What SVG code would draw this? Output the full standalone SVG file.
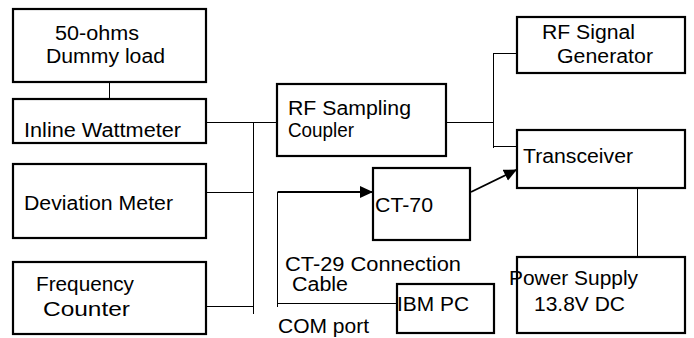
<svg xmlns="http://www.w3.org/2000/svg" width="694" height="338" viewBox="0 0 694 338">
<style>
.box{fill:#fff;stroke:#000;stroke-width:2.2}
.t{font-family:"Liberation Sans",Arial,sans-serif;font-size:19.5px;fill:#000}
.w{fill:none;stroke:#000;stroke-width:1}
.a{fill:none;stroke:#000;stroke-width:1.8}
</style>
<defs>
<marker id="arr" markerUnits="userSpaceOnUse" markerWidth="14" markerHeight="13" refX="13" refY="6" orient="auto">
<path d="M0,0 L13,6 L0,12 z" fill="#000"/>
</marker>
</defs>
<rect width="694" height="338" fill="#fff"/>
<g id="connectors">
<path class="w" d="M109.5,82 V101"/>
<path class="w" d="M206,122.5 H277"/>
<path class="w" d="M253.5,122.5 V314"/>
<path class="w" d="M206,192.5 H253.5"/>
<path class="w" d="M206,306.5 H253.5"/>
<path class="w" d="M446,122.5 H493.5"/>
<path class="w" d="M493.5,53 V148"/>
<path class="w" d="M493.5,53.5 H517"/>
<path class="w" d="M493.5,146.5 H517"/>
<path class="w" d="M637.5,188 V268"/>
<path class="w" d="M277.5,192 V307"/>
<path class="w" d="M277.5,303.5 H397" stroke="#555"/>
<path class="a" d="M277.5,192 H373" marker-end="url(#arr)"/>
<path class="a" d="M471,192 L517,169.5" marker-end="url(#arr)"/>
</g>
<g id="dummy-load">
<rect class="box" x="13" y="9" width="193" height="73"/>
<text class="t" x="55" y="40" textLength="84" lengthAdjust="spacingAndGlyphs">50-ohms</text>
<text class="t" x="46" y="63" textLength="119" lengthAdjust="spacingAndGlyphs">Dummy load</text>
</g>
<g id="inline-wattmeter">
<rect class="box" x="13" y="99" width="193" height="44"/>
<text class="t" x="24" y="137" textLength="157" lengthAdjust="spacingAndGlyphs">Inline Wattmeter</text>
</g>
<g id="deviation-meter">
<rect class="box" x="13" y="164" width="193" height="74"/>
<text class="t" x="24" y="210" textLength="149" lengthAdjust="spacingAndGlyphs">Deviation Meter</text>
</g>
<g id="frequency-counter">
<rect class="box" x="13" y="262" width="193" height="72"/>
<text class="t" x="36" y="291" textLength="98" lengthAdjust="spacingAndGlyphs">Frequency</text>
<text class="t" x="43" y="316" textLength="87" lengthAdjust="spacingAndGlyphs">Counter</text>
</g>
<g id="rf-sampling-coupler">
<rect class="box" x="277" y="84" width="169" height="72"/>
<text class="t" x="288" y="115" textLength="123" lengthAdjust="spacingAndGlyphs">RF Sampling</text>
<text class="t" x="288" y="137" textLength="66" lengthAdjust="spacingAndGlyphs">Coupler</text>
</g>
<g id="rf-signal-generator">
<rect class="box" x="517" y="17" width="168" height="56"/>
<text class="t" x="542" y="39" textLength="93" lengthAdjust="spacingAndGlyphs">RF Signal</text>
<text class="t" x="557" y="63" textLength="96" lengthAdjust="spacingAndGlyphs">Generator</text>
</g>
<g id="transceiver">
<rect class="box" x="517" y="130" width="168" height="58"/>
<text class="t" x="523" y="163" textLength="110" lengthAdjust="spacingAndGlyphs">Transceiver</text>
</g>
<g id="ct-70">
<rect class="box" x="373" y="168" width="97" height="72"/>
<text class="t" x="375" y="212" textLength="58" lengthAdjust="spacingAndGlyphs">CT-70</text>
</g>
<g id="ct-29-label">
<text class="t" x="285" y="271" textLength="176" lengthAdjust="spacingAndGlyphs">CT-29 Connection</text>
<text class="t" x="292" y="291" textLength="56" lengthAdjust="spacingAndGlyphs">Cable</text>
<text class="t" x="278" y="333" textLength="91" lengthAdjust="spacingAndGlyphs">COM port</text>
</g>
<g id="ibm-pc">
<rect class="box" x="397" y="284" width="97" height="49"/>
<text class="t" x="397" y="311" textLength="72" lengthAdjust="spacingAndGlyphs">IBM PC</text>
</g>
<g id="power-supply">
<rect class="box" x="517" y="257" width="168" height="76"/>
<text class="t" x="509" y="285" textLength="129" lengthAdjust="spacingAndGlyphs">Power Supply</text>
<text class="t" x="534" y="311" textLength="91" lengthAdjust="spacingAndGlyphs">13.8V DC</text>
</g>
</svg>
